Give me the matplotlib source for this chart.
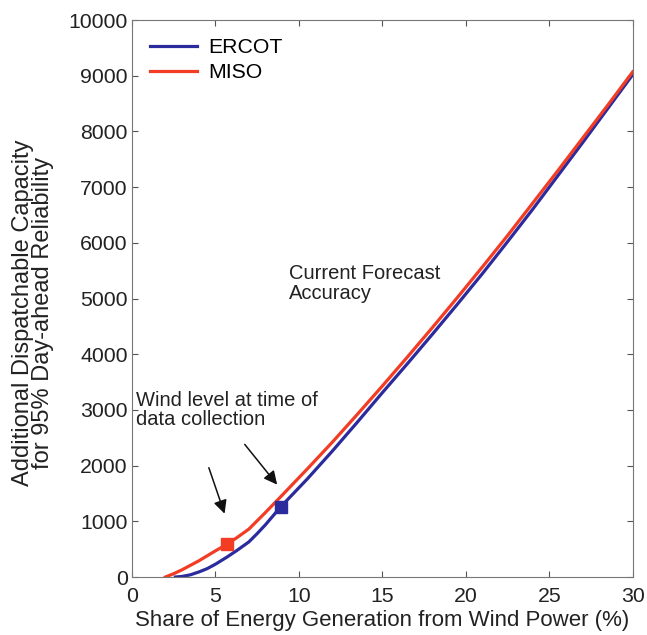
import matplotlib
matplotlib.use("Agg")
import matplotlib.pyplot as plt

plt.rcParams['font.family'] = ['Liberation Sans', 'DejaVu Sans']

# values
miso_x = [2.0, 2.5, 3, 3.5, 4, 4.5, 5, 5.7, 6.3, 7, 8, 9, 10.5, 12, 13.5, 15, 16.5, 18, 19.5, 21, 22.5, 24, 25.5, 27, 28.5, 30]
miso_y = [0, 60, 130, 210, 290, 380, 470, 590, 710, 860, 1160, 1470, 1940, 2420, 2920, 3430, 3950, 4480, 5020, 5570, 6130, 6710, 7290, 7880, 8470, 9070]
ercot_x = [2.6, 3, 3.5, 4, 4.5, 5, 5.7, 6.3, 7, 7.5, 8, 8.9, 10.5, 12, 13.5, 15, 16.5, 18, 19.5, 21, 22.5, 24, 25.5, 27, 28.5, 30]
ercot_y = [0, 10, 40, 90, 150, 230, 360, 480, 630, 780, 940, 1257, 1760, 2260, 2780, 3310, 3830, 4360, 4900, 5450, 6020, 6600, 7200, 7800, 8410, 9020]

# wind level at the time of data collection
miso_now = (5.7, 590)
ercot_now = (8.9, 1257)

blue = '#2b2b9e'
red = '#f23c24'

fig = plt.figure(figsize=(6.47, 6.35), dpi=100)
ax = fig.add_axes([0.204, 0.0913, 0.774, 0.8772])

ax.plot(ercot_x, ercot_y, color=blue, lw=2.3, label='ERCOT')
ax.plot(miso_x, miso_y, color=red, lw=2.3, label='MISO')
ax.plot(*miso_now, 's', color=red, ms=8.5)
ax.plot(*ercot_now, 's', color=blue, ms=8.5)

ax.set_xlim(0, 30)
ax.set_ylim(0, 10000)
ax.set_xticks(range(0, 31, 5))
ax.set_yticks(range(0, 10001, 1000))
ax.tick_params(direction='in', top=True, right=True, labelsize=15.3,
               colors='#555555', labelcolor='#222222', length=4, pad=3)
ax.tick_params(axis='x', pad=7)
for s in ax.spines.values():
    s.set_color('#777777')

ax.set_xlabel('Share of Energy Generation from Wind Power (%)', fontsize=16, color='#222222', labelpad=3)
ax.set_ylabel('Additional Dispatchable Capacity\nfor 95% Day-ahead Reliability', fontsize=17,
              color='#222222', linespacing=0.92)
ax.yaxis.set_label_coords(-0.155, 0.475)

leg = ax.legend(loc='upper left', frameon=False, fontsize=15.3, handlelength=2.2,
                borderaxespad=0.45, labelspacing=0.3, handletextpad=0.55)

ax.text(0.25, 3000, 'Wind level at time of\ndata collection', fontsize=14.5, color='#222222',
        va='center', ha='left', linespacing=1.05)
ax.text(9.4, 5270, 'Current Forecast\nAccuracy', fontsize=14.5, color='#222222',
        va='center', ha='left', linespacing=1.05)

arrow = dict(arrowstyle='-|>', color='#111111', lw=1.1, mutation_scale=20)
ax.annotate('', xy=(5.6, 1090), xytext=(4.55, 2010), arrowprops=arrow)
ax.annotate('', xy=(8.8, 1620), xytext=(6.65, 2420), arrowprops=arrow)

fig.savefig('out.png', dpi=100)
